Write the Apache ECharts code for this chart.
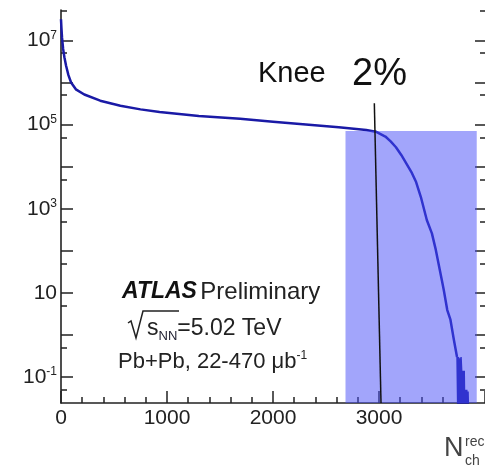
<!DOCTYPE html>
<html>
<head>
<meta charset="utf-8">
<script src="https://cdn.jsdelivr.net/npm/echarts@6/dist/echarts.min.js"></script>
<style>
  html, body { margin: 0; padding: 0; background: #fff; }
  #chart { width: 485px; height: 467px; }
</style>
</head>
<body>
<div id="chart"></div>
<script>
// main curve (smooth part)
const nch = [0, 4, 10, 20, 32, 48, 70, 95, 140, 220, 370, 560, 750, 930, 1300, 1690, 2000, 2310, 2620, 2880, 2970,
  3060, 3110, 3160, 3210, 3260, 3310, 3350, 3395, 3451, 3499, 3536, 3593, 3611, 3644, 3674, 3705, 3736];
const counts = [3.2e7, 2.0e7, 1.15e7, 6.3e6, 4.0e6, 2.5e6, 1.5e6, 1.0e6, 6.9e5, 5.2e5, 3.7e5, 2.8e5, 2.3e5, 2.0e5, 1.6e5, 1.38e5, 1.17e5, 1.0e5, 8.7e4, 7.4e4, 6.8e4,
  5.2e4, 4.0e4, 2.9e4, 1.9e4, 1.17e4, 7.1e3, 4.3e3, 1.9e3, 540, 260, 105, 20, 11.7, 3.9, 2.3, 0.8, 0.30];

// low-statistics tail (bins alternate with empty ones)
const tailNch = [3736, 3744, 3750, 3756, 3762, 3768, 3774, 3780, 3786, 3792, 3798, 3804, 3810, 3816, 3822, 3828, 3834, 3840, 3846];
const tailCounts = [0.30, 0.01, 0.30, 0.01, 0.28, 0.01, 0.30, 0.14, 0.01, 0.14, 0.01, 0.14, 0.01, 0.05, 0.01, 0.05, 0.01, 0.045, 0.01];

// top 2% band and the knee line
const shadeNch = [2684, 3922];
const shadeTop = 7.0e4;
const kneeNch = [2956, 3019];
const kneeCounts = [3.2e5, 0.0241];

// axes
const xMin = 0, xMax = 4000;
const yMin = 0.0241, yMax = 5.3e7;
const yMajor = [0.1, 1, 10, 1e2, 1e3, 1e4, 1e5, 1e6, 1e7];
const yMinor = [0.05, 0.5, 5, 50, 5e2, 5e3, 5e4, 5e5, 5e6, 5e7];
const yLabels = [0.1, 10, 1e3, 1e5, 1e7];

const FONT = '"Liberation Sans", Arial, Helvetica, sans-serif';
const INK = '#222';

const chart = echarts.init(document.getElementById('chart'));

function yAxisDef(pos, ticks, len, labels) {
  return {
    type: 'log', logBase: 10, min: yMin, max: yMax, position: pos,
    axisLine: { show: labels, lineStyle: { color: INK, width: 1.6 } },
    axisTick: { show: true, inside: true, length: len, customValues: ticks, lineStyle: { color: INK, width: 1.5 } },
    splitLine: { show: false },
    axisLabel: labels ? {
      customValues: yLabels, margin: 4, fontFamily: FONT,
      formatter: v => {
        const e = Math.round(Math.log10(v));
        return e === 1 ? '{b|10}' : '{b|10}{s|' + e + '}';
      },
      rich: {
        b: { fontSize: 21, color: INK, fontFamily: FONT, lineHeight: 22 },
        s: { fontSize: 12, color: INK, fontFamily: FONT, verticalAlign: 'top', lineHeight: 22, padding: [0, 0, 10, 0] }
      }
    } : { show: false }
  };
}

const option = {
  animation: false,
  backgroundColor: '#fff',
  grid: { left: 61, right: -2, top: 10, bottom: 64 },
  xAxis: {
    type: 'value', min: xMin, max: xMax, interval: 1000,
    axisLine: { lineStyle: { color: INK, width: 1.6 } },
    axisTick: { inside: true, length: 12, lineStyle: { color: INK, width: 1.5 } },
    minorTick: { show: true, splitNumber: 5, length: 6, lineStyle: { color: INK, width: 1.5 } },
    splitLine: { show: false },
    axisLabel: { fontSize: 21, color: INK, fontFamily: FONT, margin: 5, showMaxLabel: false, formatter: v => String(v) }
  },
  yAxis: [
    yAxisDef('left', yMajor, 12, true),
    yAxisDef('left', yMinor, 6, false),
    yAxisDef('right', yMajor, 10, false),
    yAxisDef('right', yMinor, 5, false)
  ],
  series: [
    {
      type: 'line', z: 2, symbol: 'none', clip: true,
      data: nch.map((n, i) => [n, counts[i]]),
      lineStyle: { color: '#1a1aa6', width: 2.5, join: 'round' }
    },
    {
      type: 'line', z: 2, symbol: 'none', clip: true, step: 'end',
      data: tailNch.map((n, i) => [n, tailCounts[i]]),
      lineStyle: { color: '#1a1aa6', width: 1.5 }
    },
    {
      type: 'custom', z: 3, clip: true,
      data: [[shadeNch[0], shadeNch[1], shadeTop]],
      encode: { x: [0, 1], y: 2 },
      renderItem: (params, api) => {
        const p0 = api.coord([api.value(0), api.value(2)]);
        const p1 = api.coord([api.value(1), yMin]);
        return {
          type: 'rect',
          shape: { x: p0[0], y: p0[1], width: p1[0] - p0[0], height: p1[1] - p0[1] },
          style: { fill: 'rgba(70,76,248,0.5)' }
        };
      }
    },
    {
      type: 'line', z: 4, symbol: 'none', clip: true,
      data: kneeNch.map((n, i) => [n, kneeCounts[i]]),
      lineStyle: { color: '#111', width: 1.5 }
    }
  ],
  graphic: [
    { type: 'text', x: 258, y: 74, z: 10, style: { text: 'Knee', font: '29px ' + FONT, fill: '#111', textVerticalAlign: 'middle' } },
    { type: 'text', x: 352, y: 75, z: 10, style: { text: '2%', font: '38px ' + FONT, fill: '#111', textVerticalAlign: 'middle' } },
    { type: 'text', x: 122, y: 292, z: 10, style: {
        text: '{a|ATLAS} {p|Preliminary}', textVerticalAlign: 'middle',
        rich: {
          a: { font: 'italic bold 23px ' + FONT, fill: '#111' },
          p: { font: '24px ' + FONT, fill: '#222' }
        } } },
    { type: 'polyline', z: 10, shape: { points: [[128, 323], [131, 321], [136, 338], [143, 311], [179, 311]] },
      style: { stroke: '#222', lineWidth: 1.5, fill: null } },
    { type: 'text', x: 147, y: 327, z: 10, style: {
        text: '{s|s}{n|NN}{e|=5.02 TeV}', textVerticalAlign: 'middle',
        rich: {
          s: { font: '23px ' + FONT, fill: '#222', lineHeight: 26, verticalAlign: 'bottom' },
          n: { font: '13px ' + FONT, fill: '#223', lineHeight: 26, verticalAlign: 'bottom', padding: [0, 0, -3, 0] },
          e: { font: '23px ' + FONT, fill: '#222', lineHeight: 26, verticalAlign: 'bottom' }
        } } },
    { type: 'text', x: 118, y: 362, z: 10, style: {
        text: '{t|Pb+Pb, 22-470 \u03bcb}{u|-1}', textVerticalAlign: 'middle',
        rich: {
          t: { font: '22px ' + FONT, fill: '#222', lineHeight: 24 },
          u: { font: '12px ' + FONT, fill: '#222', lineHeight: 24, verticalAlign: 'top', padding: [0, 0, 10, 0] }
        } } },
    { type: 'text', x: 444, y: 449, z: 10, style: { text: 'N', font: '27px ' + FONT, fill: '#444', textVerticalAlign: 'middle' } },
    { type: 'text', x: 465, y: 442, z: 10, style: { text: 'rec', font: '14px ' + FONT, fill: '#444', textVerticalAlign: 'middle' } },
    { type: 'text', x: 465, y: 461, z: 10, style: { text: 'ch', font: '14px ' + FONT, fill: '#444', textVerticalAlign: 'middle' } }
  ]
};

chart.setOption(option);
</script>
</body>
</html>
